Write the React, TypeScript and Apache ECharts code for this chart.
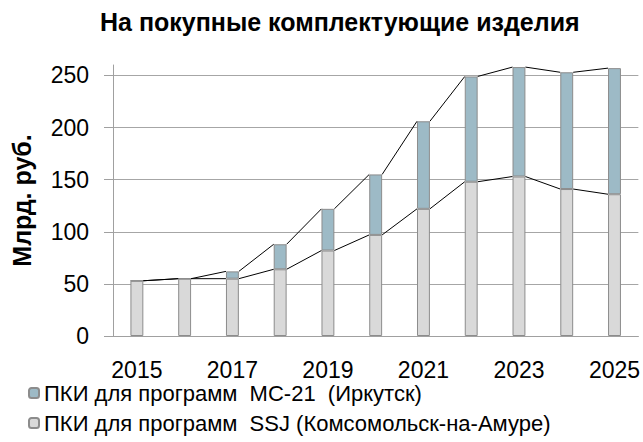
import React, { useEffect, useRef } from "react";
import * as echarts from "echarts";

const years = ["2015", "2016", "2017", "2018", "2019", "2020", "2021", "2022", "2023", "2024", "2025"];
const ssjValues = [53, 55, 55, 64, 82, 97, 122, 148, 153, 141, 136];
const mc21Values = [0, 0, 7, 24, 40, 58, 84, 101, 105, 112, 121];
const yTicks = [0, 50, 100, 150, 200, 250];

const nameMC = "ПКИ для программ  МС-21  (Иркутск)";
const nameSSJ = "ПКИ для программ  SSJ (Комсомольск-на-Амуре)";
const titleText = "На покупные комплектующие изделия";
const yName = "Млрд. руб.";

const FONT = "'Liberation Sans', Arial, sans-serif";
const BAR_RATIO = 0.27;

function segData(vals: number[]) {
  const out: number[][] = [];
  for (let i = 0; i < vals.length - 1; i++) out.push([i, vals[i], vals[i + 1]]);
  return out;
}

function lineSeries(vals: number[]) {
  return {
    type: "custom",
    silent: true,
    z: 5,
    clip: false,
    encode: { x: 0, y: 1 },
    data: segData(vals),
    renderItem: (params: any, api: any) => {
      const i = api.value(0);
      const a = api.coord([i, api.value(1)]);
      const b = api.coord([i + 1, api.value(2)]);
      const half = (api.size([1, 0])[0] * BAR_RATIO) / 2;
      return {
        type: "line",
        shape: { x1: a[0] + half, y1: a[1], x2: b[0] - half, y2: b[1] },
        style: { stroke: "#000", lineWidth: 1 },
      };
    },
  };
}

export default function App() {
  const ref = useRef<HTMLDivElement>(null);
  useEffect(() => {
    if (!ref.current) return;
    const chart = echarts.init(ref.current, null, { renderer: "svg" });
    const totals = ssjValues.map((v, i) => v + mc21Values[i]);
    const gridColors = yTicks.map(() => "#A6A6A6").concat(["rgba(0,0,0,0)"]);
    chart.setOption({
      animation: false,
      backgroundColor: "#fff",
      textStyle: { fontFamily: FONT },
      title: {
        text: titleText,
        left: 100,
        top: 9,
        padding: 0,
        textStyle: { fontFamily: FONT, fontSize: 25, fontWeight: "bold", color: "#000" },
      },
      grid: { left: 113, right: 3, top: 65, bottom: 106, containLabel: false },
      legend: {
        orient: "vertical",
        left: 28,
        top: 382,
        padding: 0,
        itemWidth: 10,
        itemHeight: 10,
        itemGap: 8,
        selectedMode: false,
        data: [nameMC, nameSSJ],
        textStyle: { fontFamily: FONT, fontSize: 22, color: "#000" },
      },
      xAxis: {
        type: "category",
        data: years,
        axisLine: { show: true, lineStyle: { color: "#A0A0A0", width: 1 } },
        axisTick: { show: false },
        axisLabel: { interval: 1, fontSize: 23, color: "#000", margin: 22, fontFamily: FONT },
      },
      yAxis: {
        type: "value",
        min: 0,
        max: 260,
        interval: 50,
        name: yName,
        nameLocation: "middle",
        nameGap: 79,
        nameTextStyle: { fontFamily: FONT, fontSize: 25, fontWeight: "bold", color: "#000" },
        axisLine: { show: true, lineStyle: { color: "#A0A0A0", width: 1 } },
        axisTick: { show: true, length: 9, customValues: yTicks, lineStyle: { color: "#A0A0A0" } },
        axisLabel: {
          fontSize: 23,
          color: "#000",
          margin: 24,
          fontFamily: FONT,
          customValues: yTicks,
          formatter: (v: number) => (v % 50 === 0 ? String(v) : ""),
        },
        splitLine: { show: true, lineStyle: { color: gridColors, width: 1 } },
      },
      series: [
        {
          name: nameSSJ,
          type: "bar",
          stack: "total",
          barWidth: BAR_RATIO * 100 + "%",
          data: ssjValues,
          itemStyle: { color: "#D9D9D9", borderColor: "#8C8C8C", borderWidth: 1 },
        },
        {
          name: nameMC,
          type: "bar",
          stack: "total",
          barWidth: BAR_RATIO * 100 + "%",
          data: mc21Values,
          itemStyle: { color: "#9DBAC6", borderColor: "#8C8C8C", borderWidth: 1 },
        },
        lineSeries(ssjValues),
        lineSeries(totals),
      ],
    });
    return () => chart.dispose();
  }, []);
  return (
    <div
      ref={ref}
      style={{ position: "fixed", left: 0, top: 0, width: 643, height: 442, background: "#fff" }}
    />
  );
}
